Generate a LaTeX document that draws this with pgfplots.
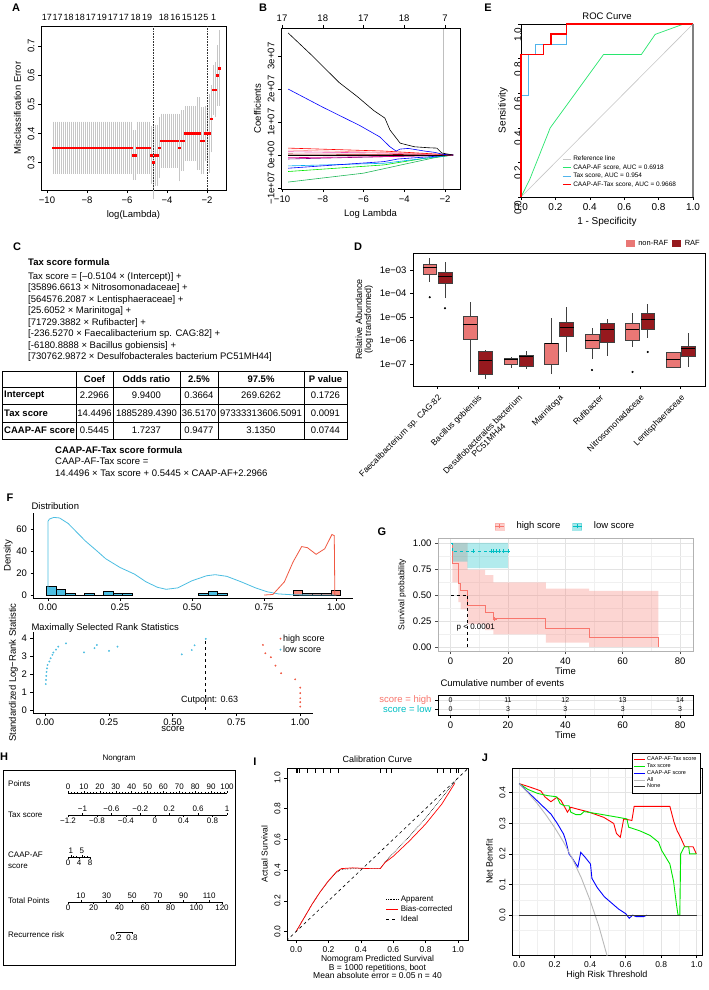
\documentclass[border=0pt]{standalone}
\usepackage{fontspec}
\setmainfont{Liberation Sans}
\usepackage{pgfplots}
\pgfplotsset{compat=1.18}
\usepackage{pgfplotstable}
\newcommand{\fs}[1]{\fontsize{#1}{#1}\selectfont}
\definecolor{Dl}{RGB}{233,119,117}
\definecolor{Dd}{RGB}{150,25,30}
\definecolor{Eg}{RGB}{40,230,110}
\definecolor{Eb}{RGB}{80,180,235}
\definecolor{Fb}{RGB}{76,190,226}
\definecolor{Fr}{RGB}{240,88,66}
\definecolor{Gr}{RGB}{248,118,109}
\definecolor{Gc}{RGB}{0,191,196}
\definecolor{Jg}{RGB}{0,230,0}
\pgfplotsset{
 base/.style={scale only axis, font=\fs{9.5}, /pgf/number format/assume math mode=true, tick align=outside, major tick length=3pt, minor tick length=0pt, tick style={black, line width=0.5pt}, axis line style={line width=0.6pt}, label style={font=\fs{9.5}}},
 rplot/.style={base, xtick pos=left, ytick pos=left, yticklabel style={rotate=90, anchor=south}},
 gg/.style={base, axis x line*=bottom, axis y line*=left, major tick length=2.5pt},
 nomo/.style={scale only axis, height=0.5pt, ymin=0, ymax=1, hide y axis, font=\fs{8}, /pgf/number format/assume math mode=true, tick align=outside, major tick length=2pt, minor tick length=1.2pt, tick style={black, line width=0.4pt}, axis line style={line width=0.5pt}, xticklabel style={inner sep=1pt}},
}
\pgfplotstableread{
x y e
-9.7 0.35 0.085
-9.6 0.35 0.085
-9.5 0.35 0.085
-9.4 0.35 0.085
-9.3 0.35 0.085
-9.2 0.35 0.085
-9.1 0.35 0.085
-9.0 0.35 0.085
-8.9 0.35 0.085
-8.8 0.35 0.085
-8.7 0.35 0.085
-8.6 0.35 0.085
-8.5 0.35 0.085
-8.4 0.35 0.085
-8.3 0.35 0.085
-8.2 0.35 0.085
-8.1 0.35 0.085
-8.0 0.35 0.085
-7.9 0.35 0.085
-7.8 0.35 0.085
-7.7 0.35 0.085
-7.6 0.35 0.085
-7.5 0.35 0.085
-7.4 0.35 0.085
-7.3 0.35 0.085
-7.2 0.35 0.085
-7.1 0.35 0.085
-7.0 0.35 0.085
-6.9 0.35 0.085
-6.8 0.35 0.085
-6.7 0.35 0.085
-6.6 0.35 0.085
-6.5 0.35 0.085
-6.4 0.35 0.085
-6.3 0.35 0.085
-6.2 0.35 0.085
-6.1 0.35 0.085
-6.0 0.35 0.085
-5.9 0.35 0.085
-5.8 0.35 0.085
-5.7 0.325 0.08
-5.6 0.325 0.08
-5.5 0.35 0.085
-5.4 0.35 0.085
-5.3 0.35 0.085
-5.2 0.35 0.085
-5.1 0.35 0.085
-5.0 0.35 0.085
-4.9 0.35 0.085
-4.8 0.325 0.095
-4.7 0.30 0.12
-4.6 0.325 0.10
-4.5 0.325 0.10
-4.4 0.35 0.10
-4.3 0.375 0.088
-4.2 0.375 0.088
-4.1 0.375 0.088
-4.0 0.375 0.088
-3.9 0.375 0.088
-3.8 0.375 0.088
-3.7 0.375 0.088
-3.6 0.375 0.088
-3.5 0.375 0.088
-3.4 0.35 0.11
-3.3 0.375 0.10
-3.2 0.375 0.10
-3.1 0.40 0.09
-3.0 0.40 0.09
-2.9 0.40 0.09
-2.8 0.40 0.09
-2.7 0.40 0.09
-2.6 0.40 0.09
-2.5 0.40 0.12
-2.4 0.40 0.12
-2.3 0.375 0.11
-2.2 0.375 0.11
-2.1 0.40 0.09
-2.0 0.40 0.09
-1.9 0.40 0.13
-1.8 0.45 0.11
-1.7 0.55 0.08
-1.6 0.55 0.09
-1.5 0.60 0.10
-1.4 0.625 0.125
}\dA
\begin{document}
\begin{tikzpicture}
\fill[white] (0,0) rectangle (709pt,-990pt);
\useasboundingbox (0,0) rectangle (709pt,-990pt);
% panel letters
\foreach \l/\x/\y in {A/16/8,B/263/8,E/488/8,C/17/247,D/358/247,F/10/498,G/382/532,H/4/757,I/255/762,J/485/758}
  \node[font=\bfseries\fs{11}] at (\x pt,-\y pt) {\l};

% ---------------- A
\begin{axis}[rplot, at={(41pt,-26pt)}, anchor=north west, width=185pt, height=164pt,
 xmin=-10.3, xmax=-1.05, ymin=0.205, ymax=0.77, clip=false,
 xtick={-10,-8,-6,-4,-2}, xticklabels={−10,−8,−6,−4,−2},
 ytick={0.3,0.4,0.5,0.6,0.7}, yticklabels={0.3,0.4,0.5,0.6,0.7},
 xlabel={log(Lambda)}, ylabel={Misclassification Error}]
\addplot[red, only marks, mark=square*, mark size=0.75pt, error bars/.cd, y dir=both, y explicit, error bar style={gray!45, line width=0.5pt}, error mark options={gray!45, mark size=1.5pt, line width=0.5pt}] table[x=x, y=y, y error=e] {\dA};
\addplot[red, only marks, mark=square*, mark size=0.75pt] table[x=x, y=y] {\dA};
\addplot[densely dotted, gray!40!black, line width=0.6pt, unbounded coords=jump] coordinates {(-4.7,0.205)(-4.7,0.77)(nan,nan)(-2.0,0.205)(-2.0,0.77)};
\begin{scope}[every node/.style={anchor=south, font=\fs{9}, inner sep=0pt, yshift=5pt}]
\node at (axis cs:-10.01,0.77) {17};
\node at (axis cs:-9.47,0.77) {17};
\node at (axis cs:-8.92,0.77) {18};
\node at (axis cs:-8.36,0.77) {18};
\node at (axis cs:-7.81,0.77) {17};
\node at (axis cs:-7.26,0.77) {19};
\node at (axis cs:-6.70,0.77) {17};
\node at (axis cs:-6.15,0.77) {17};
\node at (axis cs:-5.57,0.77) {18};
\node at (axis cs:-4.99,0.77) {19};
\node at (axis cs:-4.16,0.77) {18};
\node at (axis cs:-3.58,0.77) {16};
\node at (axis cs:-3.0,0.77) {15};
\node at (axis cs:-2.45,0.77) {12};
\node at (axis cs:-2.05,0.77) {5};
\node at (axis cs:-1.67,0.77) {1};
\end{scope}
\end{axis}

% ---------------- B
\begin{axis}[rplot, at={(281pt,-28pt)}, anchor=north west, width=179pt, height=161pt,
 xmin=-10.05, xmax=-1.26, ymin=-1.03, ymax=3.85,
 xtick={-10,-8,-6,-4,-2}, xticklabels={−10,−8,−6,−4,−2},
 ytick={-1,0,1,2,3}, yticklabels={−1e+07,0e+00,1e+07,2e+07,3e+07},
 xlabel={Log Lambda}, ylabel={Coefficients}, every axis plot/.append style={line width=0.6pt}]
\addplot[gray!50] coordinates {(-2.1,-1.03)(-2.1,3.85)};
\addplot[Eg!80!black] coordinates {(-9.7,-0.82)(-6,-0.55)(-4,-0.28)(-2.5,-0.08)(-1.6,0)};
\addplot[Jg] coordinates {(-9.7,-0.5)(-5,-0.3)(-3,-0.1)(-1.6,0)};
\addplot[cyan] coordinates {(-9.7,-0.33)(-5,-0.25)(-3,-0.1)(-1.6,0)};
\addplot[blue] coordinates {(-9.7,-0.4)(-5,-0.2)(-4.3,-0.12)(-1.6,0)};
\addplot[violet] coordinates {(-9.7,-0.12)(-1.6,0)};
\addplot[magenta] coordinates {(-9.7,-0.08)(-5,-0.05)(-1.6,0)};
\addplot[black] coordinates {(-9.7,0.0)(-1.6,0)};
\addplot[red!60!black] coordinates {(-9.7,0.03)(-5,0.02)(-1.6,0)};
\addplot[magenta!70] coordinates {(-9.7,0.1)(-5,0.06)(-1.6,0)};
\addplot[pink!80!red] coordinates {(-9.7,0.15)(-5,0.08)(-1.6,0)};
\addplot[red] coordinates {(-9.7,0.21)(-5,0.12)(-3,0.05)(-1.6,0)};
\addplot[blue] coordinates {(-9.7,2.0)(-8,1.45)(-6.2,0.9)(-5.2,0.55)(-4.7,0.25)(-4.4,0.12)(-4.2,0.18)(-3.8,0.2)(-3.0,0.12)(-2.5,0.08)(-2.1,0.02)(-1.6,0)};
\addplot[black] coordinates {(-9.7,3.7)(-8.5,3.0)(-7.2,2.2)(-6.3,1.77)(-5.5,1.35)(-4.95,1.12)(-4.7,0.76)(-4.2,0.36)(-3.5,0.25)(-2.8,0.22)(-2.4,0.21)(-2.15,0.06)(-1.6,0.0)};
\end{axis}
\begin{axis}[base, at={(281pt,-28pt)}, anchor=north west, width=179pt, height=161pt,
 xmin=-10.05, xmax=-1.26, ymin=0, ymax=1, axis x line*=top, hide y axis,
 xtick={-10,-8,-6,-4,-2}, xticklabels={17,18,17,18,7}]
\end{axis}

% ---------------- E
\begin{axis}[rplot, at={(521pt,-24pt)}, anchor=north west, width=172pt, height=173pt,
 xmin=0, xmax=1, ymin=0, ymax=1, clip=false, font=\fs{10},
 xtick={0,0.2,0.4,0.6,0.8,1}, xticklabels={0.0,0.2,0.4,0.6,0.8,1.0},
 ytick={0,0.2,0.4,0.6,0.8,1}, yticklabels={0.0,0.2,0.4,0.6,0.8,1.0},
 yticklabel style={rotate=0, anchor=east},
 title={ROC Curve}, title style={font=\fs{9.5}, yshift=-5pt},
 xlabel={1 - Specificity}, ylabel={Sensitivity}, label style={font=\fs{10}},
 legend style={at={(0.24,0.25)}, anchor=north west, draw=none, fill=none, font=\fs{6.5}, row sep=-1.5pt, inner sep=0pt},
 legend cell align=left,
 legend image code/.code={\draw[#1, line width=0.8pt] (0pt,0pt) -- (8pt,0pt);}]
\addplot[gray!45, line width=0.6pt] coordinates {(0,0)(1,1)};
\addlegendentry{Reference line}
\addplot[Eg, line width=0.7pt] coordinates {(0,0)(0.05,0.1)(0.11,0.25)(0.17,0.4)(0.48,0.824)(0.70,0.824)(0.78,0.94)(0.946,1)(1,1)};
\addlegendentry{CAAP-AF score, AUC = 0.6918}
\addplot[Eb, line width=0.7pt] coordinates {(0,0)(0,0.588)(0.045,0.588)(0.045,0.824)(0.083,0.824)(0.083,0.882)(0.264,0.882)(0.264,1)(1,1)};
\addlegendentry{Tax score, AUC = 0.954}
\addplot[red, line width=1.6pt] coordinates {(0,0)(0,0.824)(0.13,0.824)(0.13,0.882)(0.174,0.882)(0.174,0.941)(0.264,0.941)(0.264,1)(1,1)};
\addlegendentry{CAAP-AF-Tax score, AUC = 0.9668}
\addplot[gray, line width=1.4pt, forget plot] coordinates {(1,0)(1,1)};
\end{axis}

% ---------------- C text and table
\begin{scope}[every node/.style={anchor=west, font=\fs{9.5}, inner sep=0pt}]
\node[font=\bfseries\fs{9.5}] at (28pt,-262pt) {Tax score formula};
\node at (28pt,-277pt) {Tax score = [–0.5104 × (Intercept)] +};
\node at (28pt,-288.5pt) {[35896.6613 × Nitrosomonadaceae] +};
\node at (28pt,-300pt) {[564576.2087 × Lentisphaeraceae] +};
\node at (28pt,-311.5pt) {[25.6052 × Marinitoga] +};
\node at (28pt,-323pt) {[71729.3882 × Rufibacter] +};
\node at (28pt,-334.5pt) {[-236.5270 × Faecalibacterium sp. CAG:82] +};
\node at (28pt,-346pt) {[-6180.8888 × Bacillus gobiensis] +};
\node at (28pt,-357.5pt) {[730762.9872 × Desulfobacterales bacterium PC51MH44]};
\node[font=\bfseries\fs{9.5}] at (55pt,-450pt) {CAAP-AF-Tax score formula};
\node at (55pt,-461.5pt) {CAAP-AF-Tax score =};
\node at (55pt,-473pt) {14.4496 × Tax score + 0.5445 × CAAP-AF+2.2966};
\end{scope}
\draw[line width=0.6pt] (2pt,-371pt) rectangle (347pt,-439pt);
\foreach \yy in {387,404,422} \draw[line width=0.6pt] (2pt,-\yy pt) -- (347pt,-\yy pt);
\foreach \xx in {76,113,180,218,304} \draw[line width=0.6pt] (\xx pt,-371pt) -- (\xx pt,-439pt);
\begin{scope}[every node/.style={font=\fs{9.5}, inner sep=0pt}]
\foreach \t/\x in {Coef/94.5,Odds ratio/146.5,2.5\%/199,97.5\%/261,P value/325.5}
  \node[font=\bfseries\fs{9.5}] at (\x pt,-379pt) {\t};
\node[anchor=west, font=\bfseries\fs{9.5}] at (4pt,-395.5pt) {Intercept};
\node[anchor=west, font=\bfseries\fs{9.5}] at (4pt,-413pt) {Tax score};
\node[anchor=west, font=\bfseries\fs{9.5}] at (4pt,-430.5pt) {CAAP-AF score};
\foreach \t/\x in {2.2966/94.5,9.9400/146.5,0.3664/199,269.6262/261,0.1726/325.5} \node at (\x pt,-395.5pt) {\t};
\foreach \t/\x in {14.4496/94.5,1885289.4390/146.5,36.5170/199,97333313606.5091/261,0.0091/325.5} \node at (\x pt,-413pt) {\t};
\foreach \t/\x in {0.5445/94.5,1.7237/146.5,0.9477/199,3.1350/261,0.0744/325.5} \node at (\x pt,-430.5pt) {\t};
\end{scope}

% ---------------- D
\begin{axis}[base, at={(413pt,-253pt)}, anchor=north west, width=292pt, height=133pt,
 xmin=0.4, xmax=7.6, ymin=-7.94, ymax=-2.28, xtick pos=left, ytick pos=left,
 xtick={1,2,3,4,5,6,7},
 xticklabels={Faecalibacterium sp. CAG:82,Bacillus gobiensis,{Desulfobacterales bacterium\\PC51MH44},Marinitoga,Rufibacter,Nitrosomonadaceae,Lentisphaeraceae},
 xticklabel style={rotate=45, anchor=north east, align=center, font=\fs{8.5}},
 ytick={-7,-6,-5,-4,-3}, yticklabels={1e−07,1e−06,1e−05,1e−04,1e−03},
 ylabel={Relative Abundance\\(log transformed)}, ylabel style={align=center, font=\fs{9}},
 legend style={at={(1,1.015)}, anchor=south east, draw=none, fill=none, legend columns=2, font=\fs{7.5}, column sep=2pt},
 legend image code/.code={\fill[#1] (0pt,-3pt) rectangle (8pt,3pt);}]
\addlegendimage{Dl}\addlegendentry{non-RAF}
\addlegendimage{Dd}\addlegendentry{RAF}
% whiskers
\addplot[black!75, line width=0.5pt, unbounded coords=jump, forget plot] coordinates {
(0.8125,-3.5)(0.8125,-3.17)(nan,nan)(0.8125,-2.74)(0.8125,-2.49)(nan,nan)
(1.1875,-4.2)(1.1875,-3.56)(nan,nan)(1.1875,-3.08)(1.1875,-2.66)(nan,nan)
(1.8125,-7.34)(1.8125,-5.94)(nan,nan)(1.8125,-4.96)(1.8125,-4.36)(nan,nan)
(2.1875,-7.64)(2.1875,-7.43)(nan,nan)(2.1875,-6.45)(2.1875,-6.42)(nan,nan)
(2.8125,-7.17)(2.8125,-7.0)(nan,nan)(2.8125,-6.74)(2.8125,-6.70)(nan,nan)
(3.1875,-7.21)(3.1875,-7.09)(nan,nan)(3.1875,-6.62)(3.1875,-6.45)(nan,nan)
(3.8125,-7.43)(3.8125,-7.0)(nan,nan)(3.8125,-6.11)(3.8125,-5.04)(nan,nan)
(4.1875,-6.49)(4.1875,-5.81)(nan,nan)(4.1875,-5.21)(4.1875,-4.57)(nan,nan)
(4.8125,-6.79)(4.8125,-6.32)(nan,nan)(4.8125,-5.72)(4.8125,-5.47)(nan,nan)
(5.1875,-6.66)(5.1875,-6.06)(nan,nan)(5.1875,-5.26)(5.1875,-5.09)(nan,nan)
(5.8125,-6.28)(5.8125,-5.98)(nan,nan)(5.8125,-5.26)(5.8125,-4.83)(nan,nan)
(6.1875,-5.89)(6.1875,-5.51)(nan,nan)(6.1875,-4.83)(6.1875,-4.45)(nan,nan)
(6.8125,-7.13)(6.8125,-7.13)(nan,nan)(6.8125,-6.49)(6.8125,-6.49)(nan,nan)
(7.1875,-7.13)(7.1875,-6.66)(nan,nan)(7.1875,-6.23)(7.1875,-5.68)};
% boxes
\pgfplotsset{every axis plot/.append style={line width=0.5pt, draw=black!75, forget plot}}
\addplot[fill=Dl] coordinates {(0.6425,-3.17)(0.9825,-3.17)(0.9825,-2.74)(0.6425,-2.74)} -- cycle;
\addplot[fill=Dd] coordinates {(1.0175,-3.56)(1.3575,-3.56)(1.3575,-3.08)(1.0175,-3.08)} -- cycle;
\addplot[fill=Dl] coordinates {(1.6425,-5.94)(1.9825,-5.94)(1.9825,-4.96)(1.6425,-4.96)} -- cycle;
\addplot[fill=Dd] coordinates {(2.0175,-7.43)(2.3575,-7.43)(2.3575,-6.45)(2.0175,-6.45)} -- cycle;
\addplot[fill=Dl] coordinates {(2.6425,-7.0)(2.9825,-7.0)(2.9825,-6.74)(2.6425,-6.74)} -- cycle;
\addplot[fill=Dd] coordinates {(3.0175,-7.09)(3.3575,-7.09)(3.3575,-6.62)(3.0175,-6.62)} -- cycle;
\addplot[fill=Dl] coordinates {(3.6425,-7.0)(3.9825,-7.0)(3.9825,-6.11)(3.6425,-6.11)} -- cycle;
\addplot[fill=Dd] coordinates {(4.0175,-5.81)(4.3575,-5.81)(4.3575,-5.21)(4.0175,-5.21)} -- cycle;
\addplot[fill=Dl] coordinates {(4.6425,-6.32)(4.9825,-6.32)(4.9825,-5.72)(4.6425,-5.72)} -- cycle;
\addplot[fill=Dd] coordinates {(5.0175,-6.06)(5.3575,-6.06)(5.3575,-5.26)(5.0175,-5.26)} -- cycle;
\addplot[fill=Dl] coordinates {(5.6425,-5.98)(5.9825,-5.98)(5.9825,-5.26)(5.6425,-5.26)} -- cycle;
\addplot[fill=Dd] coordinates {(6.0175,-5.51)(6.3575,-5.51)(6.3575,-4.83)(6.0175,-4.83)} -- cycle;
\addplot[fill=Dl] coordinates {(6.6425,-7.13)(6.9825,-7.13)(6.9825,-6.49)(6.6425,-6.49)} -- cycle;
\addplot[fill=Dd] coordinates {(7.0175,-6.66)(7.3575,-6.66)(7.3575,-6.23)(7.0175,-6.23)} -- cycle;
% medians
\addplot[black, line width=0.9pt, unbounded coords=jump] coordinates {
(0.6425,-2.91)(0.9825,-2.91)(nan,nan)(1.0175,-3.26)(1.3575,-3.26)(nan,nan)
(1.6425,-5.34)(1.9825,-5.34)(nan,nan)(2.0175,-6.87)(2.3575,-6.87)(nan,nan)
(2.6425,-6.79)(2.9825,-6.79)(nan,nan)(3.0175,-6.70)(3.3575,-6.70)(nan,nan)
(3.6425,-6.15)(3.9825,-6.15)(nan,nan)(4.0175,-5.43)(4.3575,-5.43)(nan,nan)
(4.6425,-6.02)(4.9825,-6.02)(nan,nan)(5.0175,-5.55)(5.3575,-5.55)(nan,nan)
(5.6425,-5.55)(5.9825,-5.55)(nan,nan)(6.0175,-5.09)(6.3575,-5.09)(nan,nan)
(6.6425,-6.83)(6.9825,-6.83)(nan,nan)(7.0175,-6.36)(7.3575,-6.36)};
% outliers
\addplot[only marks, mark=*, mark size=0.8pt, black] coordinates {(0.8125,-4.16)(1.1875,-4.63)(4.8125,-7.26)(5.8125,-7.34)(6.1875,-6.49)};
\end{axis}

% ---------------- F top
\node[anchor=west, font=\fs{9.5}] at (28pt,-506pt) {Distribution};
\begin{axis}[gg, at={(33pt,-513pt)}, anchor=north west, width=320pt, height=85pt,
 xmin=-0.052, xmax=1.058, ymin=-2.7, ymax=74.5,
 xtick={0,0.25,0.5,0.75,1}, xticklabels={0.00,0.25,0.50,0.75,1.00},
 ytick={0,20,40,60}, ylabel={Density}, ylabel style={yshift=-3pt}]
\addplot[ybar interval, fill=Fb, draw=black, line width=0.6pt] coordinates {(-0.005,8)(0.028,5)(0.061,1.5)(0.094,0)(0.127,1.5)(0.16,0)(0.193,3)(0.226,1.5)(0.259,1.5)(0.292,0)};
\addplot[ybar interval, fill=Fb, draw=black, line width=0.6pt] coordinates {(0.523,1.5)(0.556,3)(0.589,1.5)(0.622,0)};
\addplot[ybar interval, fill=Fr!70, draw=black, line width=0.6pt] coordinates {(0.85,4)(0.883,1.5)(0.916,1.5)(0.949,1.5)(0.982,4)(1.015,0)};
\addplot[Fb, line width=0.8pt] coordinates {(0,0)(0,67)(0.005,69)(0.02,70.5)(0.04,70)(0.07,65)(0.1,57)(0.13,49)(0.17,40)(0.2,33)(0.25,25)(0.3,19)(0.34,12)(0.38,7)(0.41,5.2)(0.45,6.5)(0.5,13)(0.55,17.5)(0.58,18.5)(0.62,17)(0.67,12)(0.72,6.5)(0.76,3)(0.8,1)(0.85,0.2)(1,0)};
\addplot[Fr, line width=0.8pt] coordinates {(0.75,0)(0.78,0.5)(0.82,12)(0.85,30)(0.88,44)(0.9,43)(0.93,37)(0.96,42)(0.985,55)(0.993,54)(0.995,0)(1,0)};
\end{axis}

% ---------------- F bottom
\node[anchor=west, font=\fs{9.5}] at (28pt,-628pt) {Maximally Selected Rank Statistics};
\begin{axis}[gg, at={(33pt,-632pt)}, anchor=north west, width=280pt, height=81pt,
 xmin=-0.047, xmax=1.05, ymin=-0.17, ymax=4.33,
 xtick={0,0.25,0.5,0.75,1}, xticklabels={0.00,0.25,0.50,0.75,1.00},
 ytick={0,1,2,3,4}, xlabel={score}, xlabel style={yshift=6pt},
 ylabel={Standardized Log−Rank Statistic}, ylabel style={yshift=-3pt},
 legend style={at={(0.87,1.02)}, anchor=north west, draw=none, fill=none, font=\fs{9}, row sep=-1pt},
 legend cell align=left]
\addplot[only marks, mark=*, mark size=0.7pt, Fr] coordinates {(0.854,3.61)(0.863,3.15)(0.885,2.93)(0.903,2.46)(0.925,2.04)(0.98,1.70)(1.0,1.24)(1.0,0.93)(1.0,0.65)(1.0,0.43)(1.0,0.19)};
\addlegendentry{high score}
\addplot[only marks, mark=*, mark size=0.7pt, Fb] coordinates {(0.003,1.44)(0.004,1.67)(0.005,1.89)(0.006,2.11)(0.008,2.31)(0.01,2.5)(0.017,2.69)(0.022,2.87)(0.029,3.06)(0.033,3.19)(0.043,3.35)(0.052,3.52)(0.082,3.7)(0.153,3.2)(0.194,3.43)(0.203,3.61)(0.251,3.28)(0.284,3.52)(0.536,3.09)(0.575,3.33)(0.586,3.59)(0.63,3.95)};
\addlegendentry{low score}
\addplot[dashed, line width=0.8pt, forget plot] coordinates {(0.63,0)(0.63,3.95)};
\node[font=\fs{9}] at (axis cs:0.645,0.55) {Cutpoint: 0.63};
\end{axis}

% ---------------- G
\begin{axis}[base, at={(438pt,-538pt)}, anchor=north west, width=255pt, height=113pt,
 xmin=-4.4, xmax=84.5, ymin=-0.04, ymax=1.048, xtick pos=left, ytick pos=left,
 xtick={0,20,40,60,80}, ytick={0,0.25,0.5,0.75,1}, yticklabels={0.00,0.25,0.50,0.75,1.00},
 minor xtick={10,30,50,70}, minor ytick={0.125,0.375,0.625,0.875},
 grid=both, major grid style={gray!22, line width=0.5pt}, minor grid style={gray!12, line width=0.3pt},
 axis line style={gray!60}, tick style={gray!60!black},
 xlabel={Time}, ylabel={Survival probability}, xlabel style={yshift=4pt}, ylabel style={font=\fs{8.5}},
 legend style={at={(0.5,1.03)}, anchor=south, draw=none, fill=none, legend columns=2, font=\fs{9.5}, column sep=10pt},
 legend image code/.code={\fill[#1, opacity=0.35] (0pt,-3.5pt) rectangle (9pt,3.5pt); \draw[#1, line width=0.6pt] (0pt,0pt) -- (9pt,0pt) (4.5pt,-2pt) -- (4.5pt,2pt);}]
\addlegendimage{Gr}\addlegendentry{high score}
\addlegendimage{Gc}\addlegendentry{low score}
\addplot[fill=Gr, fill opacity=0.3, draw=none, forget plot] coordinates {(0,1)(5.9,1)(5.9,0.74)(12,0.74)(12,0.69)(14.9,0.69)(14.9,0.62)(33.2,0.62)(33.2,0.56)(48.3,0.56)(48.3,0.54)(72.4,0.54)(72.4,0.0)(48.3,0)(48.3,0.04)(33.2,0.04)(33.2,0.12)(14.9,0.12)(14.9,0.16)(12,0.16)(12,0.22)(5.9,0.22)(5.9,0.36)(3.5,0.36)(3.5,0.43)(2.7,0.43)(2.7,0.62)(0.6,0.62)(0.6,1.0)} -- cycle;
\addplot[fill=Gc, fill opacity=0.3, draw=none, forget plot] coordinates {(0,1)(20,1)(20,0.757)(5.8,0.757)(5.8,0.82)(0.5,0.82)(0.5,1)} -- cycle;
\addplot[Gr, line width=0.8pt, forget plot] coordinates {(0,1)(0.6,1)(0.6,0.8)(2.7,0.8)(2.7,0.61)(3.5,0.61)(3.5,0.54)(5.9,0.54)(5.9,0.40)(12,0.40)(12,0.33)(14.9,0.33)(14.9,0.27)(33.2,0.27)(33.2,0.18)(48.3,0.18)(48.3,0.09)(72.4,0.09)(72.4,0.0)};
\addplot[Gc, line width=0.8pt, dashed, forget plot] coordinates {(0,1)(0.5,1)(0.5,0.92)(20,0.92)};
\addplot[only marks, mark=+, mark size=2pt, Gc, forget plot] coordinates {(7.9,0.92)(14,0.92)(15,0.92)(16,0.92)(17,0.92)(18.5,0.92)(20,0.92)};
\addplot[only marks, mark=+, mark size=2pt, Gr, forget plot] coordinates {(15.3,0.27)};
\addplot[black, dashed, line width=0.7pt, forget plot] coordinates {(0,0.5)(5.9,0.5)(5.9,0)};
\node[anchor=west, font=\fs{8}] at (axis cs:0.9,0.19) {p < 0.0001};
\end{axis}
\node[anchor=west, font=\fs{9.5}] at (437pt,-683pt) {Cumulative number of events};
\begin{axis}[base, at={(438pt,-695pt)}, anchor=north west, width=255pt, height=20pt,
 xmin=-4.4, xmax=84.5, ymin=0.4, ymax=2.6, xtick pos=left, ytick pos=left,
 xtick={0,20,40,60,80}, ytick={1,2}, yticklabels={\textcolor{Gc}{score = low},\textcolor{Gr}{score = high}},
 yticklabel style={font=\fs{9.5}},
 minor xtick={10,30,50,70}, grid=both, major grid style={gray!22}, minor grid style={gray!12},
 tick style={black}, xlabel={Time}, xlabel style={yshift=4pt}]
\addplot[only marks, mark=none, nodes near coords, point meta=explicit symbolic, every node near coord/.style={anchor=center, font=\fs{7}}] coordinates {(0,2)[0] (20,2)[11] (40,2)[12] (60,2)[13] (80,2)[14] (0,1)[0] (20,1)[3] (40,1)[3] (60,1)[3] (80,1)[3]};
\end{axis}

% ---------------- H nomogram
\begin{axis}[scale only axis, at={(3pt,-770pt)}, anchor=north west, width=232pt, height=195pt,
 xmin=0, xmax=1, ymin=0, ymax=1, xtick=\empty, ytick=\empty, title={Nongram}, title style={font=\fs{8}, yshift=-2pt}, axis line style={line width=0.6pt}]
\end{axis}
\begin{scope}[every node/.style={anchor=west, font=\fs{8}, inner sep=0pt}]
\node at (8pt,-784pt) {Points};
\node at (8pt,-815pt) {Tax score};
\node at (8pt,-855pt) {CAAP-AF};
\node at (8pt,-866pt) {score};
\node at (8pt,-901pt) {Total Points};
\node at (8pt,-935pt) {Recurrence risk};
\end{scope}
\begin{axis}[nomo, at={(68pt,-793pt)}, anchor=north west, width=159pt, xmin=0, xmax=100, axis x line*=top, xtick={0,10,...,100}, minor x tick num=4]
\end{axis}
\begin{axis}[nomo, at={(68pt,-815pt)}, anchor=north west, width=159pt, xmin=-1.2, xmax=1, axis x line*=top, xtick={-1,-0.6,-0.2,0.2,0.6,1}, xticklabels={−1,−0.6,−0.2,0.2,0.6,1}]
\end{axis}
\begin{axis}[nomo, at={(68pt,-815pt)}, anchor=south west, width=159pt, xmin=-1.2, xmax=1, axis x line*=bottom, xtick={-1.2,-0.8,-0.4,0,0.4,0.8}, xticklabels={−1.2,−0.8,−0.4,0,0.4,0.8}]
\end{axis}
\begin{axis}[nomo, at={(68pt,-857pt)}, anchor=north west, width=22pt, xmin=0, xmax=8, axis x line*=top, xtick={1,5}, minor xtick={2,3,6,7}]
\end{axis}
\begin{axis}[nomo, at={(68pt,-857pt)}, anchor=south west, width=22pt, xmin=0, xmax=8, axis x line*=bottom, xtick={0,4,8}]
\end{axis}
\begin{axis}[nomo, at={(68pt,-902pt)}, anchor=north west, width=154pt, xmin=0, xmax=120, axis x line*=top, xtick={10,30,50,70,90,110}]
\end{axis}
\begin{axis}[nomo, at={(68pt,-902pt)}, anchor=south west, width=154pt, xmin=0, xmax=120, axis x line*=bottom, xtick={0,20,40,60,80,100,120}]
\end{axis}
\begin{axis}[nomo, at={(116pt,-932pt)}, anchor=south west, width=16pt, xmin=0.2, xmax=0.8, axis x line*=bottom, xtick={0.2,0.8}, xticklabels={0.2,0.8}, minor xtick={0.3,0.4,0.5,0.6,0.7}]
\end{axis}

% ---------------- I calibration
\begin{axis}[rplot, at={(287pt,-768pt)}, anchor=north west, width=181pt, height=172pt, font=\fs{8.5},
 xmin=-0.056, xmax=1.062, ymin=-0.055, ymax=1.065,
 xtick={0,0.2,0.4,0.6,0.8,1}, xticklabels={0.0,0.2,0.4,0.6,0.8,1.0},
 ytick={0,0.2,0.4,0.6,0.8,1}, yticklabels={0.0,0.2,0.4,0.6,0.8,1.0},
 title={Calibration Curve}, title style={font=\fs{9}, yshift=-4pt},
 xlabel={Nomogram Predicted Survival\\B = 1000 repetitions, boot\\Mean absolute error = 0.05 n = 40},
 xlabel style={align=center, font=\fontsize{8.5}{11}\selectfont, yshift=4pt}, ylabel={Actual Survival}, label style={font=\fs{8.5}},
 legend style={at={(0.53,0.28)}, anchor=north west, draw=none, fill=none, font=\fs{8}, row sep=-1.5pt},
 legend cell align=left,
 legend image code/.code={\draw[#1] (0pt,0pt) -- (12pt,0pt);}]
\addplot[black, densely dotted, line width=0.6pt] coordinates {(0.0,0.0)(0.05,0.09)(0.1,0.18)(0.15,0.26)(0.2,0.33)(0.25,0.385)(0.28,0.405)(0.35,0.41)(0.45,0.41)(0.52,0.41)(0.55,0.455)(0.6,0.51)(0.7,0.62)(0.8,0.74)(0.9,0.87)(1.0,1.0)};
\addlegendentry{Apparent}
\addplot[red, line width=0.7pt] coordinates {(0.0,0.0)(0.05,0.09)(0.1,0.18)(0.15,0.26)(0.2,0.33)(0.25,0.39)(0.28,0.41)(0.35,0.415)(0.45,0.41)(0.52,0.41)(0.55,0.45)(0.6,0.49)(0.7,0.59)(0.8,0.7)(0.9,0.83)(0.98,0.965)};
\addlegendentry{Bias-corrected}
\addplot[black, dashed, line width=0.6pt] coordinates {(-0.06,-0.06)(1.07,1.07)};
\addlegendentry{Ideal}
\addplot[black, line width=0.5pt, unbounded coords=jump, forget plot] coordinates {(0,1.035)(0,1.065)(nan,nan)(0.01,1.035)(0.01,1.065)(nan,nan)(0.02,1.035)(0.02,1.065)(nan,nan)(0.07,1.035)(0.07,1.065)(nan,nan)(0.12,1.035)(0.12,1.065)(nan,nan)(0.17,1.035)(0.17,1.065)(nan,nan)(0.21,1.035)(0.21,1.065)(nan,nan)(0.26,1.035)(0.26,1.065)(nan,nan)(0.52,1.035)(0.52,1.065)(nan,nan)(0.56,1.035)(0.56,1.065)(nan,nan)(0.59,1.035)(0.59,1.065)(nan,nan)(0.87,1.035)(0.87,1.065)(nan,nan)(0.91,1.035)(0.91,1.065)(nan,nan)(0.95,1.035)(0.95,1.065)(nan,nan)(0.99,1.035)(0.99,1.065)(nan,nan)(1.0,1.035)(1.0,1.065)};
\end{axis}

% ---------------- J DCA
\begin{axis}[base, at={(512pt,-768pt)}, anchor=north west, width=190pt, height=187pt, font=\fs{8.5},
 xmin=-0.04, xmax=1.03, ymin=-0.13, ymax=0.48, xtick pos=left, ytick pos=left,
 xtick={0,0.2,0.4,0.6,0.8,1}, xticklabels={0.0,0.2,0.4,0.6,0.8,1.0},
 ytick={0,0.1,0.2,0.3,0.4}, yticklabels={0.0,0.1,0.2,0.3,0.4}, yticklabel style={rotate=90, anchor=south},
 minor xtick={0.1,0.3,0.5,0.7,0.9}, minor ytick={-0.05,0.05,0.15,0.25,0.35,0.45},
 grid=both, major grid style={gray!22, line width=0.5pt}, minor grid style={gray!12, line width=0.3pt},
 xlabel={High Risk Threshold}, ylabel={Net Benefit}, label style={font=\fs{9}}, xlabel style={yshift=3pt},
 legend style={at={(0.99,1.08)}, anchor=north east, font=\fs{5.5}, draw=black, fill=white, row sep=-2.5pt, inner sep=1.5pt},
 legend cell align=left,
 legend image code/.code={\draw[#1] (0pt,0pt) -- (11pt,0pt);}]
\addplot[red, line width=0.9pt] coordinates {(0,0.429)(0.05,0.42)(0.1,0.41)(0.123,0.405)(0.145,0.386)(0.179,0.37)(0.212,0.384)(0.235,0.375)(0.263,0.346)(0.272,0.336)(0.291,0.352)(0.328,0.346)(0.384,0.338)(0.477,0.319)(0.533,0.299)(0.548,0.267)(0.57,0.254)(0.589,0.314)(0.635,0.309)(0.648,0.355)(0.849,0.355)(0.872,0.304)(0.89,0.275)(0.909,0.254)(0.933,0.223)(0.98,0.223)(0.998,0.2)};
\addlegendentry{CAAP-AF-Tax score}
\addplot[Jg, line width=0.9pt] coordinates {(0,0.429)(0.05,0.41)(0.105,0.397)(0.16,0.39)(0.212,0.386)(0.231,0.364)(0.253,0.357)(0.281,0.357)(0.291,0.336)(0.319,0.328)(0.347,0.328)(0.365,0.338)(0.45,0.33)(0.55,0.32)(0.607,0.314)(0.617,0.287)(0.68,0.275)(0.738,0.26)(0.785,0.238)(0.803,0.211)(0.849,0.167)(0.87,0.11)(0.885,0.04)(0.895,0.0)(0.905,0.0)(0.91,0.2)(0.93,0.223)(0.955,0.223)(0.96,0.2)(1.0,0.2)};
\addlegendentry{Tax score}
\addplot[blue, line width=0.9pt] coordinates {(0,0.429)(0.1,0.374)(0.179,0.33)(0.214,0.30)(0.25,0.265)(0.263,0.243)(0.281,0.2)(0.3,0.185)(0.331,0.157)(0.347,0.205)(0.37,0.19)(0.402,0.167)(0.41,0.12)(0.44,0.09)(0.48,0.06)(0.52,0.04)(0.56,0.02)(0.6,0.005)(0.62,-0.01)(0.64,0.0)(0.66,-0.005)(0.7,-0.005)(0.72,0.0)};
\addlegendentry{CAAP-AF score}
\addplot[gray!55, line width=0.9pt] coordinates {(0,0.429)(0.05,0.399)(0.1,0.366)(0.15,0.328)(0.2,0.286)(0.25,0.239)(0.3,0.184)(0.35,0.122)(0.4,0.048)(0.45,-0.038)(0.5,-0.142)};
\addlegendentry{All}
\addplot[black!80, line width=0.8pt] coordinates {(0,0)(1,0)};
\addlegendentry{None}
\end{axis}
\end{tikzpicture}
\end{document}
